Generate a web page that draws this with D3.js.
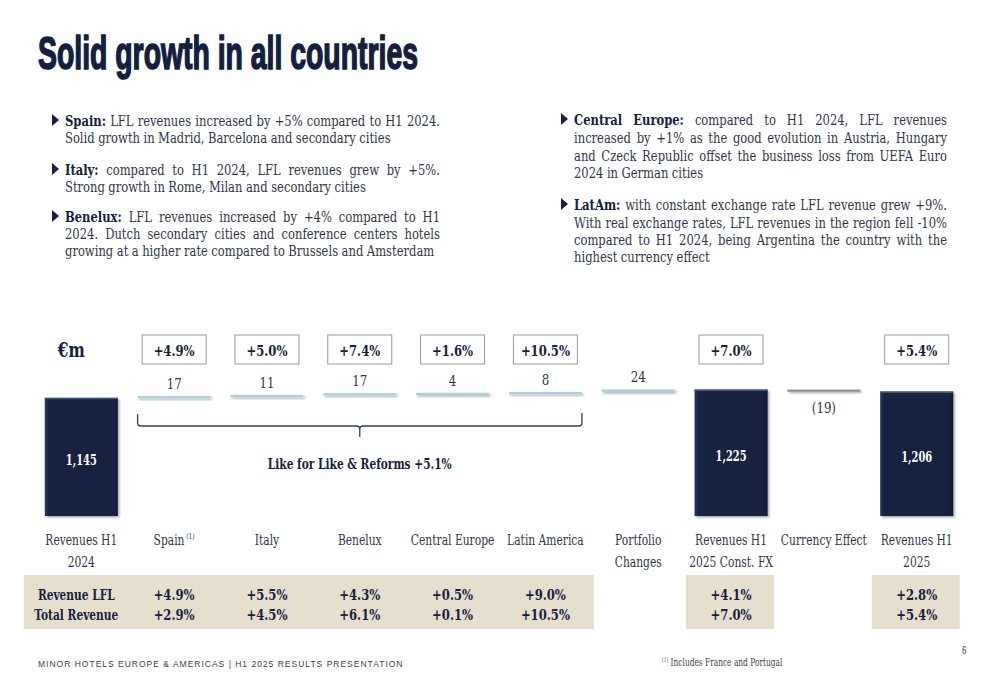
<!DOCTYPE html>
<html><head><meta charset="utf-8">
<script src="https://cdn.jsdelivr.net/npm/d3@7"></script>
<style>body{margin:0;background:#fff} svg{display:block}</style>
</head><body><svg id="c" width="1000" height="685"></svg>
<script>
// ---------- data ----------
const categories = ["Revenues H1 2024","Spain","Italy","Benelux","Central Europe","Latin America","Portfolio Changes","Revenues H1 2025 Const. FX","Currency Effect","Revenues H1 2025"];
const labelLines = [["Revenues H1","2024"],["Spain"],["Italy"],["Benelux"],["Central Europe"],["Latin America"],["Portfolio","Changes"],["Revenues H1","2025 Const. FX"],["Currency Effect"],["Revenues H1","2025"]];
const kinds = ["total","delta","delta","delta","delta","delta","delta","total","delta","total"];
const values = [1145,17,11,17,4,8,24,1225,-19,1206];
const valueLabels = ["1,145","17","11","17","4","8","24","1,225","(19)","1,206"];
const growthBoxes = ["","+4.9%","+5.0%","+7.4%","+1.6%","+10.5%","","+7.0%","","+5.4%"];
const rowLabels = ["Revenue LFL","Total Revenue"];
const lflRow = ["","+4.9%","+5.5%","+4.3%","+0.5%","+9.0%","","+4.1%","","+2.8%"];
const totalRow = ["","+2.9%","+4.5%","+6.1%","+0.1%","+10.5%","","+7.0%","","+5.4%"];
const bracketLabel = "Like for Like & Reforms +5.1%";
const unitLabel = "€m";

const leftBullets = [
  [[{b:"Spain:"},"LFL revenues increased by +5% compared to H1 2024."],["Solid growth in Madrid, Barcelona and secondary cities"]],
  [[{b:"Italy:"},"compared to H1 2024, LFL revenues grew by +5%."],["Strong growth in Rome, Milan and secondary cities"]],
  [[{b:"Benelux:"},"LFL revenues increased by +4% compared to H1"],["2024. Dutch secondary cities and conference centers hotels"],["growing at a higher rate compared to Brussels and Amsterdam"]]
];
const rightBullets = [
  [[{b:"Central Europe:"},"compared to H1 2024, LFL revenues"],["increased by +1% as the good evolution in Austria, Hungary"],["and Czeck Republic offset the business loss from UEFA Euro"],["2024 in German cities"]],
  [[{b:"LatAm:"},"with constant exchange rate LFL revenue grew +9%."],["With real exchange rates, LFL revenues in the region fell -10%"],["compared to H1 2024, being Argentina the country with the"],["highest currency effect"]]
];

// ---------- setup ----------
const NAVY = "#16223f", TEXT = "#30374a", SERIF = "'DejaVu Serif', 'Liberation Serif', serif";
const svg = d3.select("#c");
const defs = svg.append("defs");
const sh = defs.append("filter").attr("id","sh").attr("x","-10%").attr("y","-50%").attr("width","130%").attr("height","250%");
sh.append("feDropShadow").attr("dx",1.5).attr("dy",1.5).attr("stdDeviation",1.1).attr("flood-color","#000").attr("flood-opacity",0.35);
const bg = defs.append("linearGradient").attr("id","barg").attr("x1",0).attr("x2",1).attr("y1",0).attr("y2",0);
bg.append("stop").attr("offset","0%").attr("stop-color","#2a3a5c");
bg.append("stop").attr("offset","5%").attr("stop-color","#172441");
bg.append("stop").attr("offset","95%").attr("stop-color","#172441");
bg.append("stop").attr("offset","100%").attr("stop-color","#0e1830");

function rawWidth(txt, fs, bold, ff){
  const t = svg.append("text").attr("font-family",ff||SERIF).attr("font-size",fs).attr("font-weight",bold?"bold":"normal").text(txt);
  const w = t.node().getComputedTextLength(); t.remove(); return w;
}
// horizontal squeeze so a sample string reaches the width it has in the slide
function fitSx(sample, target, fs, bold){ return target / rawWidth(sample, fs, bold); }

// scaled text helper
function T(x, y, txt, o){
  o = o || {};
  const g = svg.append("g").attr("transform",`translate(${x},${y}) scale(${o.sx||0.86},1)`);
  return g.append("text").attr("x",0).attr("y",0)
    .attr("font-family",o.ff||SERIF).attr("font-size",o.fs||16)
    .attr("font-weight",o.b?"bold":"normal").attr("fill",o.fill||TEXT)
    .attr("text-anchor",o.anchor||"start").text(txt);
}

// Title
svg.append("text").attr("x",38).attr("y",69)
  .attr("font-family","'Liberation Sans','DejaVu Sans Condensed',sans-serif")
  .attr("font-weight","bold").attr("font-size",46).attr("fill","#13203d")
  .attr("stroke","#13203d").attr("stroke-width",1.6)
  .attr("textLength",380).attr("lengthAdjust","spacingAndGlyphs")
  .text("Solid growth in all countries");

// ---------- bullets ----------
const FS = 15;
const BSX = fitSx("Solid growth in Madrid, Barcelona and secondary cities", 327, FS, false);
function drawBullets(list, x0, x1, ys){
  let li = 0;
  list.forEach(par => {
    const yFirst = ys[li];
    svg.append("path").attr("d",`M${x0-13},${yFirst-12} L${x0-6},${yFirst-6} L${x0-13},${yFirst} Z`).attr("fill",NAVY);
    par.forEach((line, k) => {
      const y = ys[li++];
      let words = [];
      line.forEach(seg => {
        if (typeof seg === "string") seg.split(" ").forEach(w => words.push({t:w,b:false}));
        else seg.b.split(" ").forEach(w => words.push({t:w,b:true}));
      });
      words.forEach(w => w.w = rawWidth(w.t, FS, w.b)*BSX);
      const sum = d3.sum(words, w => w.w);
      const last = k === par.length - 1;
      let gap = FS*0.3*BSX;
      if (!last && words.length > 1) gap = (x1 - x0 - sum)/(words.length-1);
      let x = x0;
      words.forEach(w => {
        T(x, y, w.t, {fs:FS, sx:BSX, b:w.b, fill:w.b?NAVY:TEXT});
        x += w.w + gap;
      });
    });
  });
}
drawBullets(leftBullets, 65, 440, [126,143, 175,192, 222,239,256]);
drawBullets(rightBullets, 574, 947, [125,143,161,178, 210,228,245,262]);

// ---------- chart ----------
const x = d3.scaleBand().domain(categories).range([25, 973]).paddingInner(0.213).paddingOuter(0.213);
const y = d3.scaleLinear().domain([0,1250]).range([516,387]);
const bw = x.bandwidth();

let run = 0;
const bars = categories.map((c,i) => {
  let lo, hi;
  if (kinds[i] === "total") { lo = 0; hi = values[i]; run = values[i]; }
  else { const s = run; run += values[i]; lo = Math.min(s,run); hi = Math.max(s,run); }
  return {c, i, lo, hi, kind:kinds[i], v:values[i]};
});

svg.append("g").selectAll("rect").data(bars.filter(d=>d.kind==="total")).join("rect")
  .attr("x",d=>x(d.c)).attr("width",bw).attr("y",d=>y(d.hi)).attr("height",d=>y(d.lo)-y(d.hi))
  .attr("fill","url(#barg)").attr("filter","url(#sh)");
svg.append("g").selectAll("rect").data(bars.filter(d=>d.kind==="total")).join("rect")
  .attr("x",d=>x(d.c)).attr("width",bw).attr("y",d=>y(d.hi)).attr("height",1.5).attr("fill","#44547a");
svg.append("g").selectAll("rect").data(bars.filter(d=>d.kind==="delta")).join("rect")
  .attr("x",d=>x(d.c)).attr("width",bw).attr("y",d=>y(d.hi)).attr("height",d=>Math.max(2.2, y(d.lo)-y(d.hi)))
  .attr("fill",d=>d.v<0?"#8f8f8f":"#a9d0df").attr("filter","url(#sh)");

// value labels
const sxTot = fitSx("1,145", 31, 15, true), sxVal = fitSx("17", 15, 15, false);
bars.forEach(d => {
  const cx = x(d.c)+bw/2;
  if (d.kind === "total") {
    T(cx, (y(d.hi)+y(d.lo))/2+8, valueLabels[d.i], {anchor:"middle", b:true, fs:15, sx:sxTot, fill:"#fff"});
  } else if (d.v >= 0) {
    T(cx, y(d.hi)-7, valueLabels[d.i], {anchor:"middle", fs:15, sx:sxVal});
  } else {
    T(cx, y(d.lo)+21, valueLabels[d.i], {anchor:"middle", fs:15, sx:sxVal});
  }
});

// growth boxes
const sxBox = fitSx("+4.9%", 41, 15, true);
categories.forEach((c,i) => {
  if (!growthBoxes[i]) return;
  const cx = x(c)+bw/2;
  svg.append("rect").attr("x",cx-32).attr("y",335).attr("width",64).attr("height",29)
    .attr("fill","#fff").attr("stroke","#9a9a9a").attr("stroke-width",1);
  T(cx, 356, growthBoxes[i], {anchor:"middle", b:true, fs:15, sx:sxBox, fill:NAVY});
});
T(x(categories[0])+bw/2-10, 357, unitLabel, {anchor:"middle", b:true, fs:20, sx:fitSx(unitLabel, 27, 20, true), fill:NAVY});

// bracket
const bx0 = x(categories[1]), bx1 = x(categories[5])+bw, bm = (bx0+bx1)/2;
svg.append("path").attr("fill","none").attr("stroke","#34405a").attr("stroke-width",1.3)
  .attr("d",`M${bx0},414 L${bx0},423 Q${bx0},426 ${bx0+3},426 L${bm-3},426 Q${bm},426 ${bm},429 L${bm},437 M${bm},429 Q${bm},426 ${bm+3},426 L${bx1-3},426 Q${bx1},426 ${bx1},423 L${bx1},413`);
T(bm, 469, bracketLabel, {anchor:"middle", b:true, fs:15, sx:fitSx(bracketLabel, 184, 15, true), fill:NAVY});

// table shading
svg.append("rect").attr("x",x(categories[0])-21).attr("y",575).attr("width",(x(categories[5])+bw+12)-(x(categories[0])-21)).attr("height",54).attr("fill","#e7dfcd");
[7,9].forEach(i => svg.append("rect").attr("x",x(categories[i])-8.5).attr("y",575).attr("width",bw+15).attr("height",54).attr("fill","#e7dfcd"));

// category labels
const sxCat = fitSx("Revenues H1", 72, 14.5, false);
categories.forEach((c,i) => {
  const cx = x(c)+bw/2;
  labelLines[i].forEach((ln,k) => {
    const t = T(cx, 545+k*22, ln, {anchor:"middle", fs:14.5, sx:sxCat});
    if (c === "Spain") t.append("tspan").attr("dy",-6).attr("font-size",8).text(" (1)");
  });
});

// table rows
const sxRow = fitSx("Total Revenue", 84, 15, true);
[lflRow,totalRow].forEach((row,r) => {
  const yy = 600 + r*20;
  T(x(categories[0])+bw/2-5, yy, rowLabels[r], {anchor:"middle", b:true, fs:15, sx:sxRow, fill:NAVY});
  row.forEach((v,i) => {
    if (!v) return;
    T(x(categories[i])+bw/2, yy, v, {anchor:"middle", b:true, fs:15, sx:sxBox, fill:NAVY});
  });
});

// footer
svg.append("text").attr("x",38).attr("y",667).attr("font-family","'Liberation Sans','DejaVu Sans',sans-serif")
  .attr("font-size",8.5).attr("letter-spacing",1.0).attr("fill","#3a3f4a")
  .text("MINOR HOTELS EUROPE & AMERICAS  |  H1 2025 RESULTS PRESENTATION");
const fn = T(662, 666, "", {fs:11, sx:fitSx("Includes France and Portugal", 112, 11, false), fill:"#3a3f4a"});
fn.append("tspan").attr("font-size",6.5).attr("dy",-4).text("(1)");
fn.append("tspan").attr("dy",4).text(" Includes France and Portugal");
T(962, 654, "6", {fs:10, sx:0.8, ff:"'Liberation Sans',sans-serif", fill:"#3a3f4a"});
</script></body></html>
